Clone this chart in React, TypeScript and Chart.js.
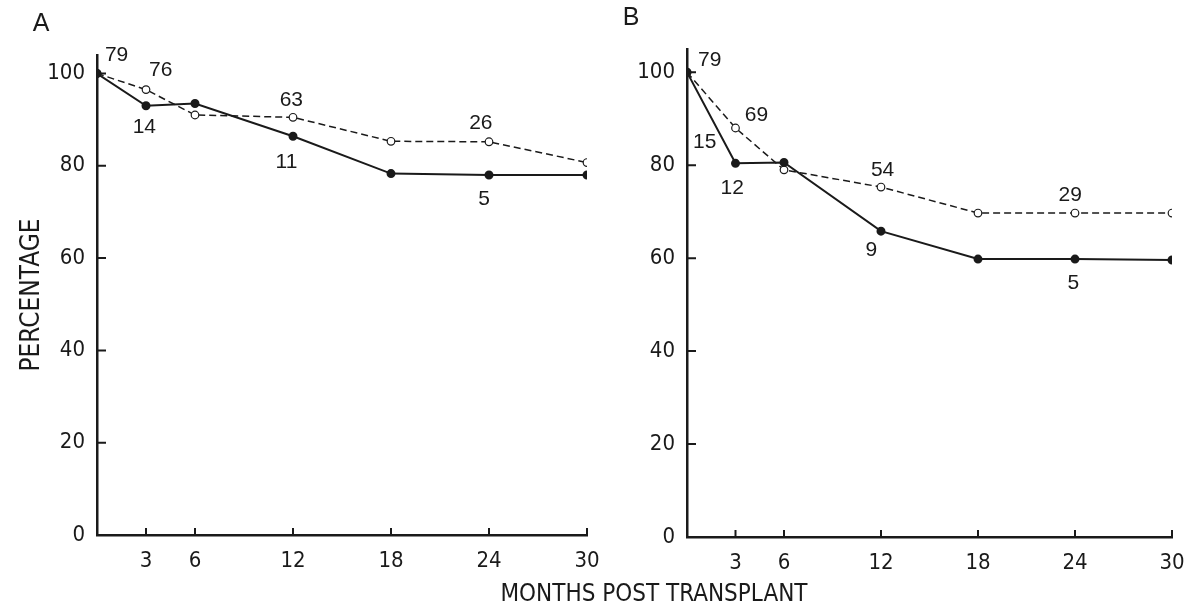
import React, { useEffect, useRef } from "react";
import { Chart, registerables } from "chart.js";

Chart.register(...registerables);

// ---- data ----
const months = [0, 3, 6, 12, 18, 24, 30];
const xTickValues = [3, 6, 12, 18, 24, 30];
const yTickValues = [0, 20, 40, 60, 80, 100];

const panelASolid = [100, 93, 93.5, 86.4, 78.3, 78, 78];
const panelADashed = [100, 96.5, 91, 90.5, 85.3, 85.2, 80.7];
const panelBSolid = [100, 80.4, 80.6, 65.8, 59.8, 59.8, 59.6];
const panelBDashed = [100, 88, 79, 75.3, 69.7, 69.7, 69.7];

// patient-number annotations (text, month, percentage)
const panelANoteText = ["79", "76", "14", "63", "11", "26", "5"];
const panelANoteMonth = [1.2, 3.9, 2.9, 11.9, 11.6, 23.5, 23.7];
const panelANoteValue = [103.9, 100.6, 88.3, 94.2, 80.7, 89.2, 72.7];

const panelBNoteText = ["79", "69", "15", "12", "54", "9", "29", "5"];
const panelBNoteMonth = [1.4, 4.3, 1.1, 2.8, 12.1, 11.4, 23.7, 23.9];
const panelBNoteValue = [102.6, 90.8, 84.9, 75.1, 78.9, 61.7, 73.5, 54.6];

const xAxisTitle = "MONTHS POST TRANSPLANT";
const yAxisTitle = "PERCENTAGE";

// ---- styles ----
const INK = "#1a1a1a";
const COND = '"DejaVu Sans Condensed", "Liberation Sans Narrow", "DejaVu Sans", sans-serif';
const SANS = '"Liberation Sans", Arial, sans-serif';

type PanelCfg = {
  letter: string;
  solid: number[];
  dashed: number[];
  noteText: string[];
  noteMonth: number[];
  noteValue: number[];
  yMax: number;
  yAxisWidth: number;
  padTop: number;
  padRight: number;
  xAxisHeight: number;
  showYTitle: boolean;
};

function buildConfig(cfg: PanelCfg): any {
  const extras = {
    id: "extras",
    afterDraw(chart: any) {
      const ctx = chart.ctx;
      const xs = chart.scales.x;
      const ys = chart.scales.y;
      const { left, bottom, top } = chart.chartArea;
      ctx.save();
      ctx.strokeStyle = INK;
      ctx.lineWidth = 2;
      ctx.beginPath();
      yTickValues.forEach((v) => {
        if (v === 0) return;
        const py = ys.getPixelForValue(v);
        ctx.moveTo(left, py);
        ctx.lineTo(left + 9, py);
      });
      xTickValues.forEach((v) => {
        const px = xs.getPixelForValue(v);
        ctx.moveTo(px, bottom);
        ctx.lineTo(px, bottom - 7);
      });
      ctx.stroke();

      ctx.fillStyle = INK;
      ctx.textAlign = "center";
      ctx.textBaseline = "middle";
      ctx.font = `21px ${SANS}`;
      cfg.noteText.forEach((t, i) => {
        ctx.fillText(t, xs.getPixelForValue(cfg.noteMonth[i]), ys.getPixelForValue(cfg.noteValue[i]));
      });

      ctx.font = `25px ${SANS}`;
      ctx.fillText(cfg.letter, left - 56, top - 31);
      ctx.restore();
    },
  };

  const ticksFont = { family: COND, size: 22 };

  return {
    type: "line",
    data: {
      datasets: [
        {
          data: months.map((m, i) => ({ x: m, y: cfg.solid[i] })),
          borderColor: INK,
          borderWidth: 2,
          pointRadius: 3.5,
          pointBackgroundColor: INK,
          pointBorderColor: INK,
          tension: 0,
          fill: false,
        },
        {
          data: months.map((m, i) => ({ x: m, y: cfg.dashed[i] })),
          borderColor: INK,
          borderWidth: 1.5,
          borderDash: [7, 4],
          pointRadius: 3.8,
          pointBackgroundColor: "#ffffff",
          pointBorderColor: INK,
          pointBorderWidth: 1.2,
          tension: 0,
          fill: false,
        },
      ],
    },
    options: {
      responsive: false,
      animation: false,
      layout: { padding: { top: cfg.padTop, right: cfg.padRight, left: 0, bottom: 0 } },
      plugins: {
        legend: { display: false },
        tooltip: { enabled: false },
        title: { display: false },
      },
      scales: {
        x: {
          type: "linear",
          min: 0,
          max: 30,
          afterBuildTicks: (s: any) => {
            s.ticks = xTickValues.map((v) => ({ value: v }));
          },
          afterFit: (s: any) => {
            s.height = cfg.xAxisHeight;
            s.paddingLeft = 0;
            s.paddingRight = 0;
          },
          grid: { display: false, drawTicks: false },
          border: { display: true, color: INK, width: 2.5 },
          ticks: {
            padding: 13,
            color: INK,
            font: ticksFont,
            maxRotation: 0,
            autoSkip: false,
            callback: (v: any) => String(v),
          },
        },
        y: {
          type: "linear",
          min: 0,
          max: cfg.yMax,
          afterBuildTicks: (s: any) => {
            s.ticks = yTickValues.map((v) => ({ value: v }));
          },
          afterFit: (s: any) => {
            s.width = cfg.yAxisWidth;
            s.paddingTop = 0;
            s.paddingBottom = 0;
          },
          grid: { display: false, drawTicks: false },
          border: { display: true, color: INK, width: 2.5 },
          ticks: {
            padding: 12,
            color: INK,
            font: ticksFont,
            autoSkip: false,
            callback: (v: any) => String(v),
          },
          title: cfg.showYTitle
            ? {
                display: true,
                text: yAxisTitle,
                color: INK,
                font: { family: COND, size: 26 },
                padding: { top: 17, bottom: 0 },
              }
            : { display: false },
        },
      },
    },
    plugins: [extras],
  };
}

function Panel({ left, width, cfg }: { left: number; width: number; cfg: PanelCfg }) {
  const ref = useRef<HTMLCanvasElement | null>(null);
  useEffect(() => {
    const chart = new Chart(ref.current as HTMLCanvasElement, buildConfig(cfg));
    return () => chart.destroy();
  }, []);
  return (
    <canvas
      ref={ref}
      width={width}
      height={610}
      style={{ position: "absolute", left, top: 0, width, height: 610 }}
    />
  );
}

const panelA: PanelCfg = {
  letter: "A",
  solid: panelASolid,
  dashed: panelADashed,
  noteText: panelANoteText,
  noteMonth: panelANoteMonth,
  noteValue: panelANoteValue,
  yMax: 104,
  yAxisWidth: 97,
  padTop: 55,
  padRight: 53,
  xAxisHeight: 75,
  showYTitle: true,
};

const panelB: PanelCfg = {
  letter: "B",
  solid: panelBSolid,
  dashed: panelBDashed,
  noteText: panelBNoteText,
  noteMonth: panelBNoteMonth,
  noteValue: panelBNoteValue,
  yMax: 105,
  yAxisWidth: 92,
  padTop: 49,
  padRight: 19,
  xAxisHeight: 73,
  showYTitle: false,
};

export default function App() {
  return (
    <div
      style={{
        position: "absolute",
        left: 0,
        top: 0,
        width: 1191,
        height: 610,
        background: "#ffffff",
        overflow: "hidden",
      }}
    >
      <Panel left={595} width={596} cfg={panelB} />
      <Panel left={0} width={640} cfg={panelA} />
      <div
        style={{
          position: "absolute",
          left: 454,
          width: 400,
          top: 579,
          textAlign: "center",
          fontFamily: COND,
          fontSize: 24,
          lineHeight: "28px",
          color: INK,
          whiteSpace: "nowrap",
        }}
      >
        {xAxisTitle}
      </div>
    </div>
  );
}
